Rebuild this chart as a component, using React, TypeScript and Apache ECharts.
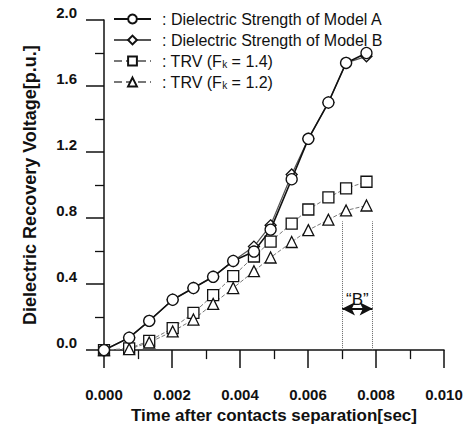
import React, { useEffect, useRef } from "react";
import * as echarts from "echarts";

const timeValues = [0, 0.00074, 0.00133, 0.00202, 0.00263, 0.00321, 0.0038, 0.00441, 0.0049, 0.00552, 0.00601, 0.0066, 0.00712, 0.00772];
const modelA = [0, 0.075, 0.177, 0.305, 0.376, 0.444, 0.54, 0.597, 0.73, 1.035, 1.28, 1.5, 1.74, 1.8];
const modelB = [0, 0.075, 0.177, 0.305, 0.376, 0.444, 0.54, 0.627, 0.756, 1.064, 1.28, 1.5, 1.74, 1.78];
const trv14 = [0, 0.01, 0.056, 0.133, 0.225, 0.333, 0.448, 0.567, 0.657, 0.766, 0.852, 0.925, 0.98, 1.02];
const trv12 = [0, 0.006, 0.046, 0.113, 0.185, 0.28, 0.376, 0.478, 0.561, 0.655, 0.727, 0.79, 0.846, 0.876];
const seriesNames = ["Dielectric Strength of Model A", "Dielectric Strength of Model B", "TRV (Fk = 1.4)", "TRV (Fk = 1.2)"];
const legendLabels: Record<string, string> = {
  "Dielectric Strength of Model A": ": Dielectric Strength of Model A",
  "Dielectric Strength of Model B": ": Dielectric Strength of Model B",
  "TRV (Fk = 1.4)": ": TRV (F{sub|k} = 1.4)",
  "TRV (Fk = 1.2)": ": TRV (F{sub|k} = 1.2)",
};
const bRange = [0.007, 0.0079];
const bTop = 0.78;
const bArrowY = 0.25;

const pair = (ys: number[]) => timeValues.map((t, i) => [t, ys[i]]);

export default function App() {
  const ref = useRef<HTMLDivElement>(null);
  useEffect(() => {
    if (!ref.current) return;
    const chart = echarts.init(ref.current, null, { renderer: "svg" });
    const font = "'Liberation Sans', Arial, sans-serif";
    const sym = { color: "#fff", borderColor: "#111", borderWidth: 1.3 };
    chart.setOption({
      animation: false,
      backgroundColor: "#fff",
      textStyle: { fontFamily: font },
      grid: { left: 104, right: 29, top: 20, bottom: 74 },
      legend: {
        orient: "vertical",
        left: 108,
        top: 6,
        itemWidth: 37,
        itemHeight: 11,
        itemGap: 5,
        data: seriesNames,
        formatter: (n: string) => legendLabels[n],
        textStyle: {
          fontSize: 16,
          color: "#111",
          fontFamily: font,
          padding: [0, 0, 0, 6],
          rich: { sub: { fontSize: 10, verticalAlign: "bottom", padding: [6, 0, 0, 0] } },
        },
      },
      xAxis: {
        type: "value",
        min: 0,
        max: 0.01,
        interval: 0.002,
        name: "Time after contacts separation[sec]",
        nameLocation: "middle",
        nameGap: 55,
        nameTextStyle: { fontSize: 17, fontWeight: "bold", color: "#111" },
        axisLine: { lineStyle: { color: "#111", width: 1.5 } },
        axisTick: { length: 18, lineStyle: { color: "#111", width: 1.5 } },
        minorTick: { show: true, splitNumber: 2, length: 9, lineStyle: { color: "#111", width: 1.3 } },
        splitLine: { show: false },
        axisLabel: { margin: 37, fontSize: 15, fontWeight: "bold", color: "#111", formatter: (v: number) => v.toFixed(3) },
      },
      yAxis: {
        type: "value",
        min: 0,
        max: 2,
        interval: 0.4,
        name: "Dielectric Recovery Voltage[p.u.]",
        nameLocation: "middle",
        nameGap: 65,
        nameTextStyle: { fontSize: 18, fontWeight: "bold", color: "#111" },
        axisLine: { show: true, lineStyle: { color: "#111", width: 1.5 } },
        axisTick: { show: true, length: 18, lineStyle: { color: "#111", width: 1.5 } },
        minorTick: { show: true, splitNumber: 2, length: 9, lineStyle: { color: "#111", width: 1.3 } },
        splitLine: { show: false },
        axisLabel: { margin: 27, fontSize: 15, fontWeight: "bold", color: "#111", verticalAlign: "bottom", formatter: (v: number) => v.toFixed(1) },
      },
      series: [
        {
          name: seriesNames[0],
          type: "line",
          data: pair(modelA),
          symbol: "circle",
          symbolSize: 11,
          itemStyle: sym,
          lineStyle: { color: "#111", width: 1.6 },
          z: 5,
        },
        {
          name: seriesNames[1],
          type: "line",
          data: pair(modelB),
          symbol: "diamond",
          symbolSize: 11,
          itemStyle: sym,
          lineStyle: { color: "#555", width: 1.2 },
          z: 4,
        },
        {
          name: seriesNames[2],
          type: "line",
          data: pair(trv14),
          symbol: "rect",
          symbolSize: 11,
          itemStyle: sym,
          lineStyle: { color: "#777", width: 1, type: "dashed" },
          z: 3,
          markLine: {
            silent: true,
            symbol: ["arrow", "arrow"],
            symbolSize: [10, 13],
            lineStyle: { color: "#111", width: 2, type: "solid" },
            label: { show: true, position: "middle", formatter: "\u201cB\u201d", fontSize: 17, color: "#111", distance: 1 },
            data: [[{ coord: [bRange[0], bArrowY] }, { coord: [bRange[1], bArrowY] }]],
          },
        },
        {
          name: seriesNames[3],
          type: "line",
          data: pair(trv12),
          symbol: "triangle",
          symbolSize: 11,
          itemStyle: sym,
          lineStyle: { color: "#777", width: 1, type: "dashed" },
          z: 3,
          markLine: {
            silent: true,
            symbol: "none",
            lineStyle: { color: "#666", width: 1, type: "dotted" },
            label: { show: false },
            data: [
              [{ coord: [bRange[0], 0] }, { coord: [bRange[0], bTop] }],
              [{ coord: [bRange[1], 0] }, { coord: [bRange[1], bTop] }],
            ],
          },
        },
      ],
    });
    return () => chart.dispose();
  }, []);
  return <div ref={ref} style={{ width: 473, height: 429, position: "absolute", left: 0, top: 0 }} />;
}
